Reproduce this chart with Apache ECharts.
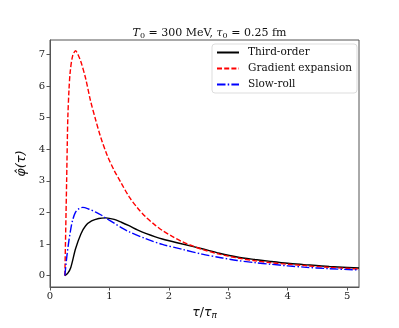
<!DOCTYPE html>
<html>
<head>
<meta charset="utf-8">
<script src="https://cdn.jsdelivr.net/npm/echarts@6/dist/echarts.min.js"></script>
<style>html,body{margin:0;padding:0;background:#fff}#c{width:399px;height:328px}</style>
</head>
<body>
<div id="c"></div>
<script>
const seriesNames = ['Third-order', 'Gradient expansion', 'Slow-roll'];

const xThird = [0.25,0.30,0.35,0.43,0.52,0.60,0.70,0.82,0.94,1.08,1.20,1.33,1.47,1.61,1.89,2.23,2.56,2.85,3.15,3.45,3.71,4.0,4.27,4.70,5.20];
const yThird = [0,0.08,0.26,0.85,1.32,1.58,1.73,1.81,1.83,1.78,1.69,1.58,1.45,1.34,1.16,1.0,0.85,0.71,0.59,0.51,0.45,0.39,0.35,0.29,0.24];

const xGrad = [0.25,0.26,0.27,0.28,0.29,0.30,0.32,0.34,0.38,0.43,0.47,0.52,0.60,0.68,0.77,0.85,0.96,1.08,1.19,1.33,1.47,1.61,1.75,1.89,2.05,2.23,2.40,2.56,2.85,3.15,3.45,3.71,4.0,4.27,4.70,5.20];
const yGrad = [0,1.0,2.0,3.0,4.1,5.0,5.9,6.45,6.95,7.12,7.0,6.77,6.24,5.55,4.92,4.40,3.82,3.33,2.96,2.5,2.15,1.86,1.63,1.43,1.25,1.07,0.94,0.83,0.68,0.56,0.47,0.41,0.36,0.32,0.26,0.21];

const xSlow = [0.25,0.28,0.31,0.35,0.38,0.43,0.49,0.55,0.65,0.77,0.86,0.94,1.08,1.20,1.33,1.61,1.89,2.23,2.56,2.90,3.15,3.45,3.71,4.0,4.27,4.70,5.20];
const ySlow = [0,0.55,1.0,1.48,1.75,2.01,2.12,2.16,2.11,2.01,1.92,1.82,1.66,1.52,1.39,1.17,0.99,0.83,0.68,0.56,0.48,0.41,0.36,0.31,0.27,0.22,0.18];

const xTicks = [0,1,2,3,4,5];
const yTicks = [0,1,2,3,4,5,6,7];

const pair = (xs, ys) => xs.map((x, i) => [x, ys[i]]);

const axisColor = '#555';
const serif = 'DejaVu Serif';

const chart = echarts.init(document.getElementById('c'), null, {renderer: 'canvas'});
chart.setOption({
  animation: false,
  backgroundColor: '#fff',
  title: {
    text: '{i|T}{s|0}{n| = 300 MeV, }{i|τ}{s|0}{n| = 0.25 fm}',
    left: 204.5, top: 21, textAlign: 'center',
    textStyle: {
      fontWeight: 'normal',
      rich: {
        n: {fontFamily: serif, fontWeight: 'normal', fontSize: 11, color: '#111'},
        i: {fontFamily: serif, fontWeight: 'normal', fontStyle: 'italic', fontSize: 11, color: '#111'},
        s: {fontFamily: serif, fontWeight: 'normal', fontSize: 8, color: '#111', verticalAlign: 'bottom', padding: [6,0,0,0]}
      }
    }
  },
  legend: {
    orient: 'vertical',
    left: 212, top: 44,
    padding: [3, 5, 3, 4],
    itemWidth: 22, itemHeight: 10, itemGap: 5,
    borderColor: '#ddd', borderWidth: 1, borderRadius: 3,
    backgroundColor: '#fff',
    itemStyle: {opacity: 0},
    textStyle: {fontFamily: serif, fontSize: 10.5, color: '#111', padding: [0,0,0,4]},
    data: seriesNames
  },
  grid: {
    left: 50, right: 40, top: 40, bottom: 41,
    show: true, borderColor: axisColor, borderWidth: 1, backgroundColor: 'transparent'
  },
  xAxis: {
    type: 'value', min: 0, max: 5.2,
    name: '{i|τ}{n|/}{i|τ}{s|π}', nameLocation: 'middle', nameGap: 15,
    nameTextStyle: {
      rich: {
        n: {fontFamily: 'DejaVu Sans', fontSize: 12.5, color: '#111'},
        i: {fontFamily: 'DejaVu Sans', fontStyle: 'italic', fontSize: 12.5, color: '#111'},
        s: {fontFamily: 'DejaVu Sans', fontStyle: 'italic', fontSize: 9, color: '#111', verticalAlign: 'bottom', padding: [7,0,0,0]}
      }
    },
    axisLine: {show: true, onZero: false, lineStyle: {color: axisColor, width: 1}},
    axisTick: {show: true, length: 3.5, lineStyle: {color: axisColor}, customValues: xTicks},
    axisLabel: {fontFamily: serif, fontSize: 10, color: '#222', margin: 4, customValues: xTicks},
    splitLine: {show: false}
  },
  yAxis: {
    type: 'value', min: -0.36, max: 7.46,
    name: 'φ̂(τ)', nameLocation: 'middle', nameGap: 17, nameRotate: 90,
    nameTextStyle: {fontFamily: 'DejaVu Sans', fontStyle: 'italic', fontSize: 13, color: '#111'},
    axisLine: {show: true, onZero: false, lineStyle: {color: axisColor, width: 1}},
    axisTick: {show: true, length: 3.5, lineStyle: {color: axisColor}, customValues: yTicks},
    axisLabel: {fontFamily: serif, fontSize: 10, color: '#222', margin: 5, customValues: yTicks},
    splitLine: {show: false}
  },
  series: [
    {
      name: seriesNames[0], type: 'line', data: pair(xThird, yThird),
      showSymbol: false, symbol: 'none', smooth: 0.3,
      lineStyle: {color: '#000', width: 1.4, type: 'solid'}, itemStyle: {color: '#000'}
    },
    {
      name: seriesNames[1], type: 'line', data: pair(xGrad, yGrad),
      showSymbol: false, symbol: 'none', smooth: 0.3,
      lineStyle: {color: '#ff0000', width: 1.4, type: [5, 2.2]}, itemStyle: {color: '#ff0000'}
    },
    {
      name: seriesNames[2], type: 'line', data: pair(xSlow, ySlow),
      showSymbol: false, symbol: 'none', smooth: 0.3,
      lineStyle: {color: '#0000ff', width: 1.4, type: [8.5, 2.2, 1.5, 2.2]}, itemStyle: {color: '#0000ff'}
    }
  ]
});
</script>
</body>
</html>
